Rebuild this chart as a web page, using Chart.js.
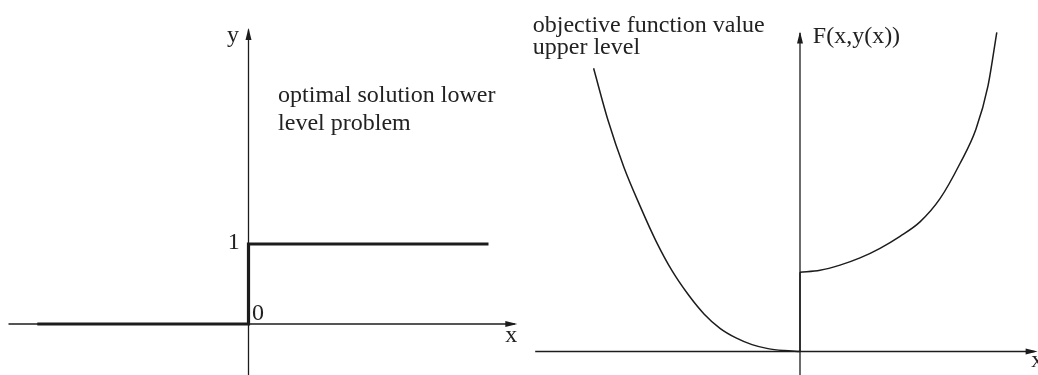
<!DOCTYPE html>
<html>
<head>
<meta charset="utf-8">
<title>Step solution and upper level objective</title>
<script src="https://cdn.jsdelivr.net/npm/chart.js@4.4.1/dist/chart.umd.min.js"></script>
<style>
  html, body { margin: 0; padding: 0; background: #fff; }
  #wrap { position: relative; width: 1038px; height: 375px; overflow: hidden; }
  .panel { position: absolute; top: 0; width: 519px; height: 375px; }
  #left-panel  { left: 0; }
  #right-panel { left: 519px; }
</style>
</head>
<body>
<div id="wrap">
  <div class="panel" id="left-panel"><canvas id="leftCanvas" width="519" height="375"></canvas></div>
  <div class="panel" id="right-panel"><canvas id="rightCanvas" width="519" height="375"></canvas></div>
</div>

<script>
// ---- data (left: optimal solution of the lower level problem) ----
const stepX = [-2.64, 0, 0, 3.0];
const stepY = [0, 0, 1, 1];

// ---- data (right: upper level objective F(x, y(x))) ----
const leftBranchX = [-2.58, -2.4, -2.2, -2.0, -1.8, -1.6, -1.4, -1.2, -1.0, -0.8, -0.6, -0.4, -0.2, 0];
const leftBranchY = [3.54, 2.89, 2.30, 1.82, 1.38, 1.01, 0.715, 0.47, 0.29, 0.17, 0.086, 0.036, 0.012, 0];
const jumpX = [0, 0];
const jumpY = [0, 0.99];
const rightBranchX = [0, 0.25, 0.5, 0.75, 1.0, 1.25, 1.5, 1.75, 2.0, 2.2, 2.35, 2.46];
const rightBranchY = [0.99, 1.015, 1.08, 1.17, 1.29, 1.44, 1.62, 1.91, 2.35, 2.78, 3.32, 3.99];

// tick labels on the left plot
const leftTickLabels = ['1', '0'];

const INK = '#1c1c1c';
const FONT = '24px "Liberation Serif", "DejaVu Serif", serif';

const toPoints = (xs, ys) => xs.map((x, i) => ({ x, y: ys[i] }));

function lineSet(points, width, extra) {
  return Object.assign({
    data: points,
    showLine: true,
    borderColor: INK,
    borderWidth: width,
    pointRadius: 0,
    fill: false,
    tension: 0
  }, extra || {});
}

// draws arrow heads and text labels, both placed in data coordinates
const decorPlugin = {
  id: 'decor',
  afterDatasetsDraw(chart, args, opts) {
    const { ctx } = chart;
    const xs = chart.scales.x, ys = chart.scales.y;
    ctx.save();
    ctx.fillStyle = INK;
    (opts.arrows || []).forEach(a => {
      const px = xs.getPixelForValue(a.x);
      const py = ys.getPixelForValue(a.y);
      ctx.beginPath();
      if (a.dir === 'right') {
        ctx.moveTo(px, py);
        ctx.lineTo(px - 12, py - 3);
        ctx.lineTo(px - 12, py + 3);
      } else {
        ctx.moveTo(px, py);
        ctx.lineTo(px - 3, py + 12);
        ctx.lineTo(px + 3, py + 12);
      }
      ctx.closePath();
      ctx.fill();
    });
    ctx.font = FONT;
    ctx.textAlign = 'left';
    ctx.textBaseline = 'alphabetic';
    ctx.fillStyle = '#222';
    (opts.labels || []).forEach(l => {
      ctx.fillText(l.text, xs.getPixelForValue(l.x), ys.getPixelForValue(l.y));
    });
    ctx.restore();
  }
};

function baseOptions(xMin, xMax, yMin, yMax, decor) {
  return {
    responsive: false,
    animation: false,
    events: [],
    layout: { padding: 0 },
    plugins: {
      legend: { display: false },
      tooltip: { enabled: false },
      decor: decor
    },
    scales: {
      x: { type: 'linear', min: xMin, max: xMax, display: false },
      y: { type: 'linear', min: yMin, max: yMax, display: false }
    }
  };
}

// Left chart
new Chart(document.getElementById('leftCanvas'), {
  type: 'scatter',
  data: {
    datasets: [
      lineSet([{ x: -3.0, y: 0 }, { x: 3.33, y: 0 }], 1.3),
      lineSet([{ x: 0, y: -0.7 }, { x: 0, y: 3.68 }], 1.3),
      lineSet(toPoints(stepX, stepY), 3.2)
    ]
  },
  options: baseOptions(-3.10625, 3.38125, -0.6375, 4.05, {
    arrows: [
      { x: 3.36, y: 0, dir: 'right' },
      { x: 0, y: 3.7, dir: 'up' }
    ],
    labels: [
      { text: 'y', x: -0.27, y: 3.53 },
      { text: leftTickLabels[0], x: -0.26, y: 0.94 },
      { text: leftTickLabels[1], x: 0.045, y: 0.05 },
      { text: 'x', x: 3.21, y: -0.225 },
      { text: 'optimal solution lower', x: 0.37, y: 2.78 },
      { text: 'level problem', x: 0.37, y: 2.43 }
    ]
  }),
  plugins: [decorPlugin]
});

// Right chart
new Chart(document.getElementById('rightCanvas'), {
  type: 'scatter',
  data: {
    datasets: [
      lineSet([{ x: -3.31, y: 0 }, { x: 2.93, y: 0 }], 1.3),
      lineSet([{ x: 0, y: -0.3 }, { x: 0, y: 3.98 }], 1.3),
      lineSet(toPoints(leftBranchX, leftBranchY), 1.5, { cubicInterpolationMode: 'monotone' }),
      lineSet(toPoints(jumpX, jumpY), 1.5),
      lineSet(toPoints(rightBranchX, rightBranchY), 1.5, { cubicInterpolationMode: 'monotone' })
    ]
  },
  options: baseOptions(-3.5125, 2.975, -0.29375, 4.39375, {
    arrows: [
      { x: 2.97, y: 0, dir: 'right' },
      { x: 0, y: 4.0, dir: 'up' }
    ],
    labels: [
      { text: 'objective function value', x: -3.34, y: 3.99 },
      { text: 'upper level', x: -3.34, y: 3.72 },
      { text: 'F(x,y(x))', x: 0.16, y: 3.86 },
      { text: 'x', x: 2.89, y: -0.19 }
    ]
  }),
  plugins: [decorPlugin]
});
</script>
</body>
</html>
